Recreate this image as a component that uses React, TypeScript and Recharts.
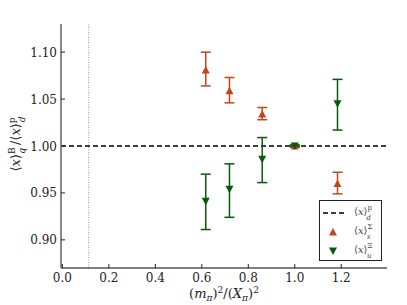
import { ScatterChart, Scatter, XAxis, YAxis, ErrorBar, ReferenceLine, Legend } from 'recharts'

const SIGMA = '#c0461c'
const XI = '#0b5a0b'
const INK = '#222'
const FONT = 'DejaVu Serif'

// (m_pi)^2 / (X_pi)^2 for each ensemble
const massRatio = [0.617, 0.719, 0.86, 1.0, 1.184]
// <x>_s^Sigma / <x>_d^p with [lower, upper] errors
const sigmaRatio = [1.081, 1.059, 1.034, 1.0, 0.96]
const sigmaErr: [number, number][] = [[0.017, 0.019], [0.013, 0.014], [0.006, 0.007], [0.001, 0.001], [0.011, 0.012]]
// <x>_u^Xi / <x>_d^p
const xiRatio = [0.941, 0.954, 0.986, 1.0, 1.045]
const xiErr: [number, number][] = [[0.03, 0.029], [0.03, 0.027], [0.025, 0.023], [0.001, 0.001], [0.028, 0.026]]

const physicalPoint = 0.113
const xTicks = [0, 0.2, 0.4, 0.6, 0.8, 1.0, 1.2]
const yTicks = [0.9, 0.95, 1.0, 1.05, 1.1]
const xDomain: [number, number] = [-0.006, 1.397]
const yDomain: [number, number] = [0.87, 1.13]

const sigmaData = massRatio.map((x, i) => ({ x, y: sigmaRatio[i], err: sigmaErr[i] }))
const xiData = massRatio.map((x, i) => ({ x, y: xiRatio[i], err: xiErr[i] }))

const GAP = 4
const TICK = 4
const txt = { fontFamily: FONT }

const UpTri = ({ cx, cy, fill }: any) => (
  <polygon points={`${cx},${cy - 4} ${cx - 4},${cy + 3.5} ${cx + 4},${cy + 3.5}`} fill={fill} />
)
const DownTri = ({ cx, cy, fill }: any) => (
  <polygon points={`${cx},${cy + 4} ${cx - 4},${cy - 3.5} ${cx + 4},${cy - 3.5}`} fill={fill} />
)

const BottomTick = ({ x, y, payload }: any) => (
  <g>
    <line x1={x} x2={x} y1={y - GAP} y2={y - GAP - TICK} stroke={INK} />
    <text x={x} y={y + 10} textAnchor="middle" style={txt} fontSize={12} fill={INK}>
      {payload.value.toFixed(1)}
    </text>
  </g>
)
const LeftTick = ({ x, y, payload }: any) => (
  <g>
    <line x1={x + GAP} x2={x + GAP + TICK} y1={y} y2={y} stroke={INK} />
    <text x={x} y={y + 4.5} textAnchor="end" style={txt} fontSize={12} fill={INK}>
      {payload.value.toFixed(2)}
    </text>
  </g>
)
const TopTick = ({ x, y }: any) => <line x1={x} x2={x} y1={y} y2={y + TICK} stroke={INK} />
const RightTick = ({ x, y }: any) => <line x1={x - TICK} x2={x} y1={y} y2={y} stroke={INK} />

const Bracket = ({ sup, sub, supW }: { sup: string; sub: string; supW: number }) => (
  <>
    <tspan>⟨</tspan>
    <tspan fontStyle="italic">x</tspan>
    <tspan>⟩</tspan>
    <tspan fontSize="0.7em" dy={-5.5}>{sup}</tspan>
    <tspan fontSize="0.7em" fontStyle="italic" dx={-supW} dy={10}>{sub}</tspan>
  </>
)

const YLabel = ({ viewBox }: any) => {
  const cx = viewBox.x + 20
  const cy = viewBox.y + viewBox.height / 2 - 2
  return (
    <text x={cx} y={cy} transform={`rotate(-90 ${cx} ${cy})`} textAnchor="middle" style={txt} fontSize={13} fill={INK}>
      <Bracket sup="B" sub="q" supW={6.5} />
      <tspan dx={3} dy={-4.5}>/</tspan>
      <Bracket sup="p" sub="d" supW={5} />
    </text>
  )
}

const XLabel = ({ viewBox }: any) => {
  const cx = viewBox.x + viewBox.width / 2
  return (
    <text x={cx} y={viewBox.y + 30} textAnchor="middle" style={txt} fontSize={13} fill={INK}>
      <tspan>(</tspan>
      <tspan fontStyle="italic">m</tspan>
      <tspan fontSize="0.7em" fontStyle="italic" dy={3}>π</tspan>
      <tspan dy={-3}>)</tspan>
      <tspan fontSize="0.7em" dy={-5}>2</tspan>
      <tspan dy={5}>/(</tspan>
      <tspan fontStyle="italic">X</tspan>
      <tspan fontSize="0.7em" fontStyle="italic" dy={3}>π</tspan>
      <tspan dy={-3}>)</tspan>
      <tspan fontSize="0.7em" dy={-5}>2</tspan>
    </text>
  )
}

const legendItems = [
  { kind: 'line', sup: 'p', sub: 'd', color: '#000' },
  { kind: 'up', sup: 'Σ', sub: 's', color: SIGMA },
  { kind: 'down', sup: 'Ξ', sub: 'u', color: XI },
]

const LegendBox = () => (
  <svg width={63} height={61} style={{ display: 'block' }}>
    <rect x={0.5} y={0.5} width={62} height={60} fill="#fff" stroke={INK} />
    {legendItems.map((it, i) => {
      const y = 13 + i * 19
      return (
        <g key={i}>
          {it.kind === 'line' && <line x1={4} x2={27} y1={y} y2={y} stroke="#000" strokeWidth={1.5} strokeDasharray="5 3" />}
          {it.kind === 'up' && <UpTri cx={14} cy={y} fill={it.color} />}
          {it.kind === 'down' && <DownTri cx={14} cy={y} fill={it.color} />}
          <text x={35} y={y + 2} style={txt} fontSize={10} fill="#444">
            <Bracket sup={it.sup} sub={it.sub} supW={5.5} />
          </text>
        </g>
      )
    })}
  </svg>
)

export default function App() {
  return (
    <div style={{ position: 'absolute', left: 0, top: 0, background: '#fff' }}>
      <ScatterChart width={407} height={305} margin={{ top: 24, right: 20, bottom: 0, left: 0 }}>
        <XAxis
          xAxisId="b"
          dataKey="x"
          type="number"
          domain={xDomain}
          ticks={xTicks}
          allowDataOverflow
          height={37}
          tickSize={0}
          tickMargin={GAP}
          tickLine={false}
          tick={<BottomTick />}
          axisLine={{ stroke: '#000', strokeWidth: 1.2 }}
          label={<XLabel />}
        />
        <XAxis
          xAxisId="t"
          orientation="top"
          type="number"
          domain={xDomain}
          ticks={xTicks}
          allowDataOverflow
          height={0}
          tickSize={0}
          tickMargin={0}
          tickLine={false}
          tick={<TopTick />}
          axisLine={{ stroke: '#333', strokeWidth: 1.2 }}
        />
        <YAxis
          yAxisId="l"
          dataKey="y"
          type="number"
          domain={yDomain}
          ticks={yTicks}
          allowDataOverflow
          width={61}
          tickSize={0}
          tickMargin={GAP}
          tickLine={false}
          tick={<LeftTick />}
          axisLine={{ stroke: '#888', strokeWidth: 2 }}
          label={<YLabel />}
        />
        <YAxis
          yAxisId="r"
          orientation="right"
          type="number"
          domain={yDomain}
          ticks={yTicks}
          allowDataOverflow
          width={0}
          tickSize={0}
          tickMargin={0}
          tickLine={false}
          tick={<RightTick />}
          axisLine={{ stroke: '#000', strokeWidth: 1.2 }}
        />
        <ReferenceLine xAxisId="b" yAxisId="l" x={physicalPoint} stroke="#999" strokeDasharray="1 1.5" />
        <ReferenceLine xAxisId="b" yAxisId="l" y={1} stroke="#000" strokeWidth={1.5} strokeDasharray="5 3" />
        <Scatter xAxisId="b" yAxisId="l" data={sigmaData} fill={SIGMA} shape={<UpTri />} isAnimationActive={false}>
          <ErrorBar dataKey="err" direction="y" width={5} stroke={SIGMA} strokeWidth={1.5} isAnimationActive={false} />
        </Scatter>
        <Scatter xAxisId="b" yAxisId="l" data={xiData} fill={XI} shape={<DownTri />} isAnimationActive={false}>
          <ErrorBar dataKey="err" direction="y" width={5} stroke={XI} strokeWidth={1.5} isAnimationActive={false} />
        </Scatter>
        <Legend
          layout="horizontal"
          verticalAlign="middle"
          align="center"
          content={<LegendBox />}
          wrapperStyle={{ left: 319, top: 200, width: 63, height: 61 }}
        />
      </ScatterChart>
    </div>
  )
}
